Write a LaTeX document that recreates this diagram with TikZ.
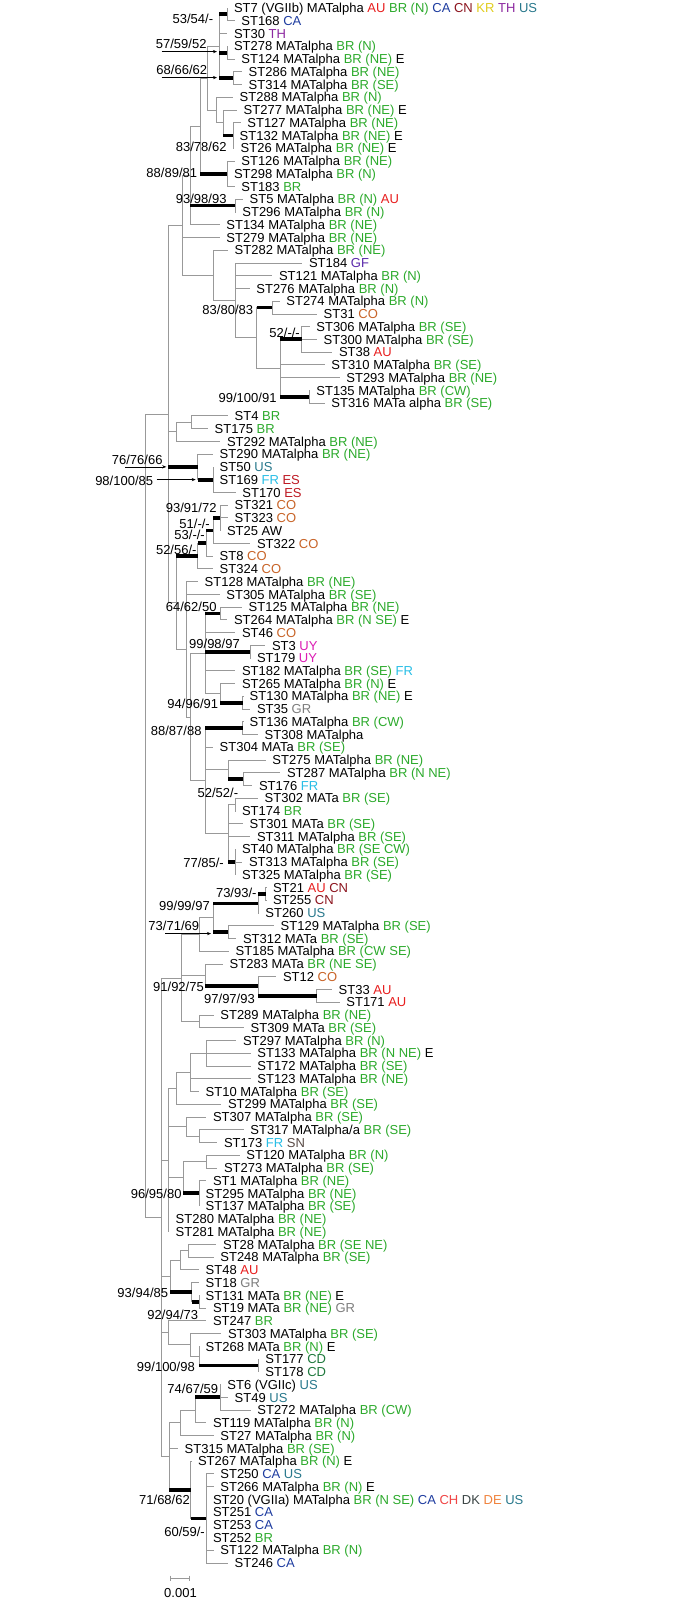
\documentclass[tikz,border=0pt]{standalone}
\usepackage{fontspec}
\setmainfont{Liberation Sans}
\usetikzlibrary{calc,arrows.meta}
\definecolor{cBR}{RGB}{44,170,44}
\definecolor{cAU}{RGB}{232,30,30}
\definecolor{cCA}{RGB}{30,60,160}
\definecolor{cCN}{RGB}{140,20,30}
\definecolor{cKR}{RGB}{225,205,30}
\definecolor{cTH}{RGB}{140,40,160}
\definecolor{cUS}{RGB}{40,120,140}
\definecolor{cGF}{RGB}{90,40,170}
\definecolor{cCO}{RGB}{200,100,40}
\definecolor{cFR}{RGB}{40,190,230}
\definecolor{cES}{RGB}{190,25,35}
\definecolor{cUY}{RGB}{220,30,180}
\definecolor{cGR}{RGB}{125,125,125}
\definecolor{cCD}{RGB}{30,120,60}
\definecolor{cCH}{RGB}{240,70,70}
\definecolor{cDK}{RGB}{60,70,70}
\definecolor{cDE}{RGB}{240,130,60}
\definecolor{cSN}{RGB}{90,75,70}
\newcommand\cty[1]{\textcolor{c#1}{#1}}
\newcommand\gbr[1]{\textcolor{cBR}{BR #1}}
\newcommand\lf[3]{\coordinate (l#1) at (#2,{8+(#1-1)*12.746}); \node[leaf] (t#1) at (l#1) {#3};}
\newcommand\inode[4]{\path let \p1=($(#3)!.5!(#4)$) in (#2pt,\y1) coordinate (#1);}
\newcommand\kids[2]{\foreach \kk in {#2}{\draw[tl] (#1) |- (\kk);}}
\newcommand\tkid[2]{\draw[tk] (#1 |- #2) -- (#2);}
\newcommand\bsl[4]{\node[bs] (#1) at (#2,#3) {#4};}
\begin{document}
\begin{tikzpicture}[x=1pt,y=-1pt,
  leaf/.style={anchor=base west, inner sep=0pt, xshift=6.5pt, yshift=-4.7pt, font=\fontsize{13pt}{14pt}\selectfont},
  bs/.style={anchor=base east, inner sep=0pt, yshift=-4.7pt, font=\fontsize{13pt}{14pt}\selectfont},
  tl/.style={draw=black!40, line width=0.8pt},
  tk/.style={draw=black, line width=3.8pt, line cap=butt},
  arr/.style={draw=black, line width=0.6pt, -{Stealth[length=4pt,width=3.2pt]}}]
\fill[white] (0,0) rectangle (674,1600);
\useasboundingbox (0,0) rectangle (674,1600);
% leaves
\lf{1}{227.3}{ST7 (VGIIb) MATalpha \cty{AU} \gbr{(N)} \cty{CA} \cty{CN} \cty{KR} \cty{TH} \cty{US}}
\lf{2}{234.7}{ST168 \cty{CA}}
\lf{3}{227.3}{ST30 \cty{TH}}
\lf{4}{227.3}{ST278 MATalpha \gbr{(N)}}
\lf{5}{234.7}{ST124 MATalpha \gbr{(NE)} E}
\lf{6}{242}{ST286 MATalpha \gbr{(NE)}}
\lf{7}{242}{ST314 MATalpha \gbr{(SE)}}
\lf{8}{233}{ST288 MATalpha \gbr{(N)}}
\lf{9}{237}{ST277 MATalpha \gbr{(NE)} E}
\lf{10}{240.7}{ST127 MATalpha \gbr{(NE)}}
\lf{11}{233}{ST132 MATalpha \gbr{(NE)} E}
\lf{12}{234}{ST26 MATalpha \gbr{(NE)} E}
\lf{13}{234.7}{ST126 MATalpha \gbr{(NE)}}
\lf{14}{227.3}{ST298 MATalpha \gbr{(N)}}
\lf{15}{234.7}{ST183 \cty{BR}}
\lf{16}{243}{ST5 MATalpha \gbr{(N)} \cty{AU}}
\lf{17}{235.7}{ST296 MATalpha \gbr{(N)}}
\lf{18}{219.7}{ST134 MATalpha \gbr{(NE)}}
\lf{19}{219.7}{ST279 MATalpha \gbr{(NE)}}
\lf{20}{228}{ST282 MATalpha \gbr{(NE)}}
\lf{21}{302.3}{ST184 \cty{GF}}
\lf{22}{272.3}{ST121 MATalpha \gbr{(N)}}
\lf{23}{249.7}{ST276 MATalpha \gbr{(N)}}
\lf{24}{279.7}{ST274 MATalpha \gbr{(N)}}
\lf{25}{317}{ST31 \cty{CO}}
\lf{26}{309.7}{ST306 MATalpha \gbr{(SE)}}
\lf{27}{317}{ST300 MATalpha \gbr{(SE)}}
\lf{28}{332.3}{ST38 \cty{AU}}
\lf{29}{324.7}{ST310 MATalpha \gbr{(SE)}}
\lf{30}{339.7}{ST293 MATalpha \gbr{(NE)}}
\lf{31}{309.7}{ST135 MATalpha \gbr{(CW)}}
\lf{32}{324.7}{ST316 MATa alpha \gbr{(SE)}}
\lf{33}{228}{ST4 \cty{BR}}
\lf{34}{208}{ST175 \cty{BR}}
\lf{35}{220.3}{ST292 MATalpha \gbr{(NE)}}
\lf{36}{213}{ST290 MATalpha \gbr{(NE)}}
\lf{37}{213}{ST50 \cty{US}}
\lf{38}{213}{ST169 \cty{FR} \cty{ES}}
\lf{39}{235.7}{ST170 \cty{ES}}
\lf{40}{228}{ST321 \cty{CO}}
\lf{41}{228}{ST323 \cty{CO}}
\lf{42}{220.3}{ST25 AW}
\lf{43}{250.3}{ST322 \cty{CO}}
\lf{44}{213}{ST8 \cty{CO}}
\lf{45}{213}{ST324 \cty{CO}}
\lf{46}{198}{ST128 MATalpha \gbr{(NE)}}
\lf{47}{219.7}{ST305 MATalpha \gbr{(SE)}}
\lf{48}{242}{ST125 MATalpha \gbr{(NE)}}
\lf{49}{227.3}{ST264 MATalpha \gbr{(N SE)} E}
\lf{50}{235.3}{ST46 \cty{CO}}
\lf{51}{265.3}{ST3 \cty{UY}}
\lf{52}{250.3}{ST179 \cty{UY}}
\lf{53}{235.3}{ST182 MATalpha \gbr{(SE)} \cty{FR}}
\lf{54}{235.3}{ST265 MATalpha \gbr{(N)} E}
\lf{55}{243}{ST130 MATalpha \gbr{(NE)} E}
\lf{56}{250.3}{ST35 \cty{GR}}
\lf{57}{243}{ST136 MATalpha \gbr{(CW)}}
\lf{58}{258}{ST308 MATalpha}
\lf{59}{213}{ST304 MATa \gbr{(SE)}}
\lf{60}{265.7}{ST275 MATalpha \gbr{(NE)}}
\lf{61}{280.3}{ST287 MATalpha \gbr{(N NE)}}
\lf{62}{252.3}{ST176 \cty{FR}}
\lf{63}{258}{ST302 MATa \gbr{(SE)}}
\lf{64}{235.3}{ST174 \cty{BR}}
\lf{65}{243}{ST301 MATa \gbr{(SE)}}
\lf{66}{250.3}{ST311 MATalpha \gbr{(SE)}}
\lf{67}{235.3}{ST40 MATalpha \gbr{(SE CW)}}
\lf{68}{242.3}{ST313 MATalpha \gbr{(SE)}}
\lf{69}{235.3}{ST325 MATalpha \gbr{(SE)}}
\lf{70}{266.3}{ST21 \cty{AU} \cty{CN}}
\lf{71}{266.3}{ST255 \cty{CN}}
\lf{72}{258.7}{ST260 \cty{US}}
\lf{73}{274}{ST129 MATalpha \gbr{(SE)}}
\lf{74}{236.3}{ST312 MATa \gbr{(SE)}}
\lf{75}{229}{ST185 MATalpha \gbr{(CW SE)}}
\lf{76}{223}{ST283 MATa \gbr{(NE SE)}}
\lf{77}{276.3}{ST12 \cty{CO}}
\lf{78}{332}{ST33 \cty{AU}}
\lf{79}{339.7}{ST171 \cty{AU}}
\lf{80}{213.7}{ST289 MATalpha \gbr{(NE)}}
\lf{81}{244}{ST309 MATa \gbr{(SE)}}
\lf{82}{236.3}{ST297 MATalpha \gbr{(N)}}
\lf{83}{250.7}{ST133 MATalpha \gbr{(N NE)} E}
\lf{84}{250.7}{ST172 MATalpha \gbr{(SE)}}
\lf{85}{250.7}{ST123 MATalpha \gbr{(NE)}}
\lf{86}{199}{ST10 MATalpha \gbr{(SE)}}
\lf{87}{221.3}{ST299 MATalpha \gbr{(SE)}}
\lf{88}{206.3}{ST307 MATalpha \gbr{(SE)}}
\lf{89}{243.7}{ST317 MATalpha/a \gbr{(SE)}}
\lf{90}{217.3}{ST173 \cty{FR} \cty{SN}}
\lf{91}{239.7}{ST120 MATalpha \gbr{(N)}}
\lf{92}{217.3}{ST273 MATalpha \gbr{(SE)}}
\lf{93}{206.3}{ST1 MATalpha \gbr{(NE)}}
\lf{94}{199}{ST295 MATalpha \gbr{(NE)}}
\lf{95}{199}{ST137 MATalpha \gbr{(SE)}}
\lf{96}{169}{ST280 MATalpha \gbr{(NE)}}
\lf{97}{169}{ST281 MATalpha \gbr{(NE)}}
\lf{98}{216.3}{ST28 MATalpha \gbr{(SE NE)}}
\lf{99}{213.7}{ST248 MATalpha \gbr{(SE)}}
\lf{100}{199}{ST48 \cty{AU}}
\lf{101}{199}{ST18 \cty{GR}}
\lf{102}{199}{ST131 MATa \gbr{(NE)} E}
\lf{103}{206.3}{ST19 MATa \gbr{(NE)} \cty{GR}}
\lf{104}{206.3}{ST247 \cty{BR}}
\lf{105}{221.3}{ST303 MATalpha \gbr{(SE)}}
\lf{106}{199}{ST268 MATa \gbr{(N)} E}
\lf{107}{258.7}{ST177 \cty{CD}}
\lf{108}{258.7}{ST178 \cty{CD}}
\lf{109}{220.7}{ST6 (VGIIc) \cty{US}}
\lf{110}{228}{ST49 \cty{US}}
\lf{111}{250.7}{ST272 MATalpha \gbr{(CW)}}
\lf{112}{206.3}{ST119 MATalpha \gbr{(N)}}
\lf{113}{213.7}{ST27 MATalpha \gbr{(N)}}
\lf{114}{178}{ST315 MATalpha \gbr{(SE)}}
\lf{115}{191.3}{ST267 MATalpha \gbr{(N)} E}
\lf{116}{213.7}{ST250 \cty{CA} \cty{US}}
\lf{117}{213.7}{ST266 MATalpha \gbr{(N)} E}
\lf{118}{206.3}{ST20 (VGIIa) MATalpha \gbr{(N SE)} \cty{CA} \cty{CH} \cty{DK} \cty{DE} \cty{US}}
\lf{119}{206.3}{ST251 \cty{CA}}
\lf{120}{206.3}{ST253 \cty{CA}}
\lf{121}{206.3}{ST252 \cty{BR}}
\lf{122}{213.7}{ST122 MATalpha \gbr{(N)}}
\lf{123}{228}{ST246 \cty{CA}}
% internal nodes
\inode{n53}{227}{l1}{l2}
\inode{n57}{227}{l4}{l5}
\inode{n68}{233}{l6}{l7}
\inode{A}{219}{n53}{n68}
\inode{C1}{233}{l10}{l12}
\inode{D}{223.3}{l9}{C1}
\inode{E}{216.7}{l8}{D}
\inode{B}{207}{A}{E}
\inode{n88}{227}{l13}{l15}
\inode{F}{200}{B}{n88}
\inode{n93}{235}{l16}{l17}
\inode{G}{190}{F}{l18}
\inode{nL}{272}{l24}{l25}
\inode{nN}{301.7}{l26}{l28}
\inode{nO}{309.3}{l31}{l32}
\inode{M}{280}{nN}{nO}
\inode{K}{256.7}{nL}{M}
\inode{J}{235}{l21}{K}
\inode{I}{213}{l20}{J}
\inode{H}{182.7}{G}{I}
\inode{n4}{191.7}{l33}{l34}
\inode{n4b}{176.7}{n4}{l35}
\inode{R}{213}{l37}{l39}
\inode{Q}{197.7}{l36}{R}
\inode{n93b}{220}{l40}{l42}
\inode{n51}{213}{n93b}{l43}
\inode{n53b}{206}{n51}{l44}
\inode{T}{197.7}{n53b}{l45}
\inode{n64}{220}{l48}{l49}
\inode{n99}{250}{l51}{l52}
\inode{n94}{242.7}{l55}{l56}
\inode{n265}{220}{l54}{n94}
\inode{X}{205}{n64}{n265}
\inode{n88b}{242.7}{l57}{l58}
\inode{n52}{243.3}{l61}{l62}
\inode{AB}{228.3}{l60}{n52}
\inode{n302}{235}{l63}{l64}
\inode{n77}{235}{l67}{l69}
\inode{AA}{228.3}{n302}{n77}
\inode{Z}{205}{n88b}{AA}
\inode{AC}{190.7}{X}{Z}
\inode{Y}{186.7}{l46}{AC}
\inode{W}{176}{T}{Y}
\inode{P}{168.3}{H}{W}
\inode{n73}{265.7}{l70}{l71}
\inode{n99c}{258.3}{n73}{l72}
\inode{n73b}{228.3}{l73}{l74}
\inode{n917}{213}{n99c}{n73b}
\inode{AD}{199}{n917}{l75}
\inode{n97}{316.7}{l78}{l79}
\inode{n91}{258.3}{l77}{n97}
\inode{n283}{205}{l76}{n91}
\inode{n289}{199}{l80}{l81}
\inode{AE}{181}{AD}{n289}
\inode{n297}{206}{l82}{l84}
\inode{AG}{190.7}{n297}{l86}
\inode{AH}{176}{AG}{l87}
\inode{n317}{199.3}{l89}{l90}
\inode{n307}{186}{l88}{n317}
\inode{n120}{206}{l91}{l92}
\inode{n96}{199}{l93}{l95}
\inode{n1177}{183.3}{n120}{n96}
\inode{AI}{168.3}{AH}{l97}
\inode{n28}{188.3}{l98}{l99}
\inode{n48}{180}{n28}{l100}
\inode{n92}{199}{l102}{l103}
\inode{n93c}{191.7}{l101}{n92}
\inode{n1275}{170}{n48}{n93c}
\inode{n99d}{258.3}{l107}{l108}
\inode{n268}{199}{l106}{n99d}
\inode{n303}{190.7}{l105}{n268}
\inode{n247}{168.3}{l104}{n303}
\inode{n74}{220}{l109}{l111}
\inode{n74p}{195}{n74}{l112}
\inode{n27}{180}{n74p}{l113}
\inode{n60}{206}{l116}{l123}
\inode{n71}{190.7}{l115}{n60}
\inode{AK}{169}{n27}{n71}
\inode{AF}{161}{AE}{AK}
\inode{R0}{145.7}{P}{AF}
% thin branches
\kids{A}{n53,l3,n57,n68} \kids{n53}{l1,l2} \kids{n57}{l4,l5} \kids{n68}{l6,l7}
\kids{C1}{l10,l11,l12} \kids{D}{l9,C1} \kids{E}{l8,D} \kids{B}{A,E}
\kids{n88}{l13,l14,l15} \kids{F}{B,n88} \kids{n93}{l16,l17} \kids{G}{F,n93,l18}
\kids{H}{G,l19,I} \kids{I}{l20,J} \kids{J}{l21,l22,l23,K} \kids{K}{nL,M} \kids{nL}{l24,l25}
\kids{M}{nN,l29,l30,nO} \kids{nN}{l26,l27,l28} \kids{nO}{l31,l32}
\kids{n4}{l33,l34} \kids{n4b}{n4,l35} \kids{R}{l37,l38,l39} \kids{Q}{l36,R}
\kids{P}{H,n4b,Q,W}
\kids{n93b}{l40,l41,l42} \kids{n51}{n93b,l43} \kids{n53b}{n51,l44} \kids{T}{n53b,l45}
\kids{W}{T,Y} \kids{Y}{l46,l47,AC} \kids{AC}{X,Z}
\kids{X}{n64,l50,n99,l53,n265} \kids{n64}{l48,l49} \kids{n99}{l51,l52} \kids{n265}{l54,n94} \kids{n94}{l55,l56}
\kids{Z}{n88b,l59,AB,AA} \kids{n88b}{l57,l58} \kids{AB}{l60,n52} \kids{n52}{l61,l62}
\kids{AA}{n302,l65,l66,n77} \kids{n302}{l63,l64} \kids{n77}{l67,l68,l69}
\kids{R0}{P,AF}
\kids{AF}{AE,AI,n1275,n247,AK}
\kids{AE}{AD,n283,n289} \kids{AD}{n917,l75} \kids{n917}{n99c,n73b} \kids{n99c}{n73,l72} \kids{n73}{l70,l71} \kids{n73b}{l73,l74}
\kids{n283}{l76,n91} \kids{n91}{l77,n97} \kids{n97}{l78,l79} \kids{n289}{l80,l81}
\kids{AI}{AH,n307,n1177,l96,l97} \kids{AH}{AG,l87} \kids{AG}{n297,l85,l86} \kids{n297}{l82,l83,l84}
\kids{n307}{l88,n317} \kids{n317}{l89,l90} \kids{n1177}{n120,n96} \kids{n120}{l91,l92} \kids{n96}{l93,l94,l95}
\kids{n1275}{n48,n93c} \kids{n48}{n28,l100} \kids{n28}{l98,l99} \kids{n93c}{l101,n92} \kids{n92}{l102,l103}
\kids{n247}{l104,n303} \kids{n303}{l105,n268} \kids{n268}{l106,n99d} \kids{n99d}{l107,l108}
\kids{AK}{n27,l114,n71} \kids{n27}{n74p,l113} \kids{n74p}{n74,l112} \kids{n74}{l109,l110,l111}
\kids{n71}{l115,n60} \kids{n60}{l116,l117,l118,l119,l120,l121,l122,l123}
% thick supported branches
\tkid{A}{n53} \tkid{A}{n57} \tkid{A}{n68} \tkid{D}{C1} \tkid{F}{n88} \tkid{G}{n93}
\tkid{K}{nL} \tkid{M}{nN} \tkid{M}{nO} \tkid{P}{Q} \tkid{Q}{R}
\tkid{n51}{n93b} \tkid{n53b}{n51} \tkid{T}{n53b} \tkid{W}{T}
\tkid{X}{n64} \tkid{X}{n99} \tkid{n265}{n94} \tkid{Z}{n88b} \tkid{AB}{n52} \tkid{AA}{n77}
\tkid{n99c}{n73} \tkid{n917}{n99c} \tkid{n917}{n73b} \tkid{n283}{n91} \tkid{n91}{n97}
\tkid{n1177}{n96} \tkid{n1275}{n93c} \tkid{n93c}{n92} \tkid{n268}{n99d}
\tkid{n74p}{n74} \tkid{AK}{n71} \tkid{n71}{n60}
% support labels
\bsl{b1}{213.3}{19}{53/54/-}
\bsl{b2}{206.7}{44}{57/59/52}
\bsl{b3}{207.3}{70}{68/66/62}
\bsl{b4}{226.7}{147}{83/78/62}
\bsl{b5}{197.3}{173}{88/89/81}
\bsl{b6}{226.7}{199}{93/98/93}
\bsl{b7}{253.3}{310}{83/80/83}
\bsl{b8}{300}{333}{52/-/-}
\bsl{b9}{276.7}{398}{99/100/91}
\bsl{b10}{162.7}{460}{76/76/66}
\bsl{b11}{153.3}{481}{98/100/85}
\bsl{b12}{216.7}{508}{93/91/72}
\bsl{b13}{210}{524}{51/-/-}
\bsl{b14}{205}{535}{53/-/-}
\bsl{b15}{196.7}{550}{52/56/-}
\bsl{b16}{216.7}{607}{64/62/50}
\bsl{b17}{240}{644}{99/98/97}
\bsl{b18}{218.3}{704}{94/96/91}
\bsl{b19}{201.7}{731}{88/87/88}
\bsl{b20}{238.3}{793}{52/52/-}
\bsl{b21}{224}{863}{77/85/-}
\bsl{b22}{256.7}{893}{73/93/-}
\bsl{b23}{210}{906}{99/99/97}
\bsl{b24}{199.3}{926}{73/71/69}
\bsl{b25}{204}{987}{91/92/75}
\bsl{b26}{255}{999}{97/97/93}
\bsl{b27}{181.7}{1194}{96/95/80}
\bsl{b28}{168.3}{1293}{93/94/85}
\bsl{b29}{198.3}{1315}{92/94/73}
\bsl{b30}{195}{1367}{99/100/98}
\bsl{b31}{218.3}{1389}{74/67/59}
\bsl{b32}{190}{1500}{71/68/62}
\bsl{b33}{205}{1532}{60/59/-}
% arrows from labels
\draw[arr] ($(A |- n57)+(-57.3,-1)$) coordinate (a2s) -- ($(A |- n57)+(-2,-1)$) coordinate (a2e);
\draw[arr] ($(A |- n68)+(-57.3,-0.5)$) coordinate (a3s) -- ($(A |- n68)+(-2,-0.5)$) coordinate (a3e);
\draw[arr] ($(P |- Q)+(-43.3,0)$) coordinate (a10s) -- ($(P |- Q)+(-2,0)$) coordinate (a10e);
\draw[arr] ($(Q |- R)+(-41,0)$) coordinate (a11s) -- ($(Q |- R)+(-2,0)$) coordinate (a11e);
\draw[arr] ($(n917 |- n73b)+(-48,1.5)$) coordinate (a24s) -- ($(n917 |- n73b)+(-2,1.5)$) coordinate (a24e);
% scale bar
\coordinate (sb1) at (170,1578);
\coordinate (sb2) at (189.3,1578);
\draw[tl] (sb1) -- (sb2);
\draw[tl] ($(sb1)+(0,-2.5)$) -- ($(sb1)+(0,2.5)$);
\draw[tl] ($(sb2)+(0,-2.5)$) -- ($(sb2)+(0,2.5)$);
\node[anchor=base, inner sep=0pt, yshift=-4.7pt, font=\fontsize{13pt}{14pt}\selectfont] (sbt) at (180.5,1593) {0.001};
\end{tikzpicture}
\end{document}
